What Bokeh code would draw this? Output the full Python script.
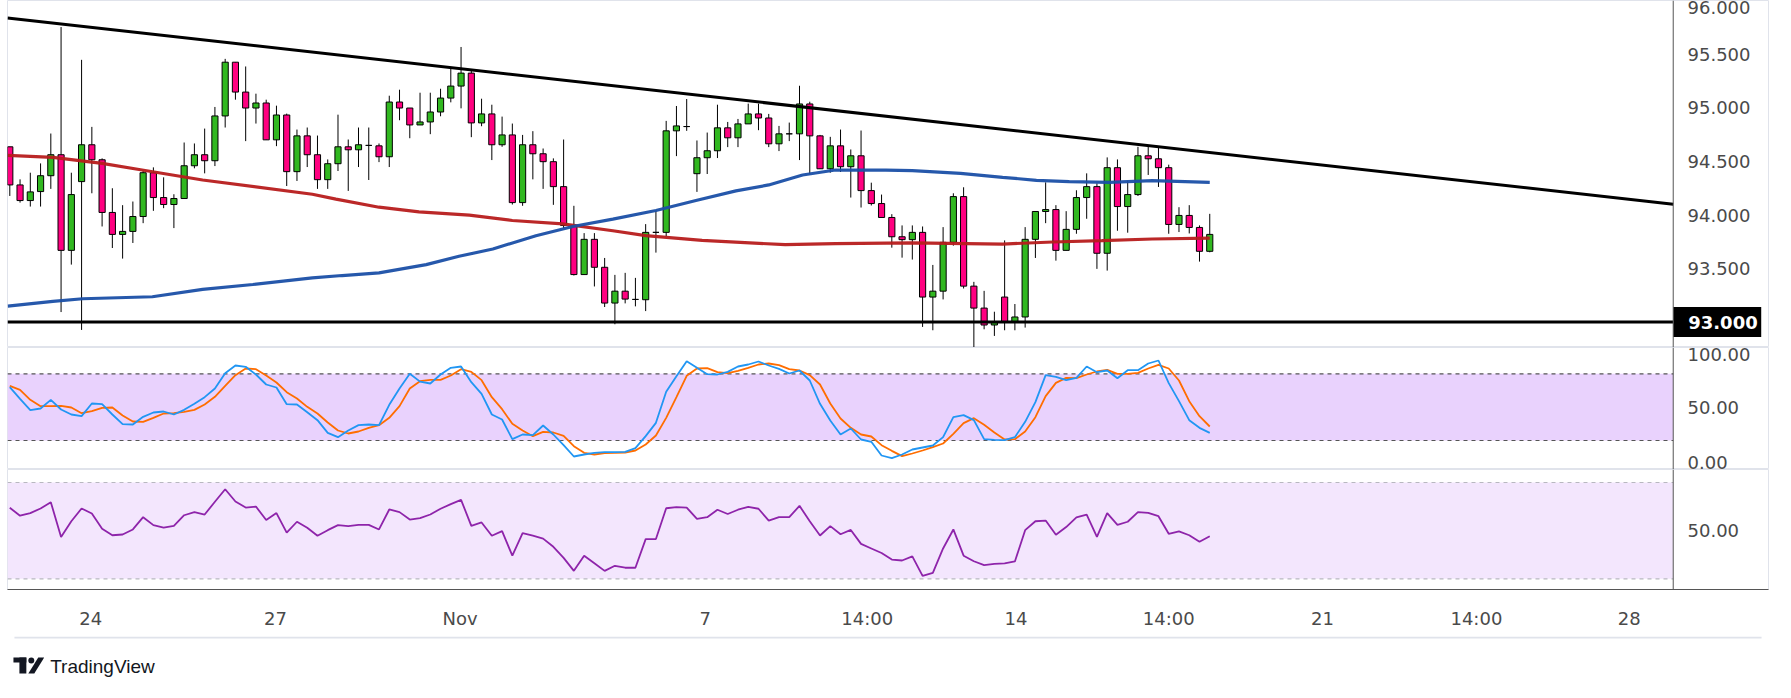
import numpy as np
from bokeh.plotting import figure
from bokeh.models import (Range1d, FixedTicker, BoxAnnotation, Span,
                          NumeralTickFormatter, ColumnDataSource)
from bokeh.layouts import column
from bokeh.core.properties import value
from bokeh.embed import file_html
from bokeh.resources import INLINE

# ---------------- data ----------------
opens = [
    94.637, 94.281, 94.135, 94.219, 94.367, 94.563, 93.670, 94.312, 94.656, 94.516,
    94.024, 93.819, 93.847, 93.986, 94.395, 94.163, 94.098, 94.154, 94.460, 94.563,
    94.507, 94.925, 95.427, 95.148, 94.999, 95.046, 94.702, 94.934, 94.405, 94.739,
    94.563, 94.330, 94.479, 94.637, 94.609, 94.650, 94.646, 94.544, 95.055, 94.999,
    94.841, 94.869, 94.962, 95.092, 95.204, 95.325, 94.860, 94.944, 94.656, 94.748,
    94.116, 94.656, 94.572, 94.498, 94.265, 93.903, 93.444, 93.773, 93.512, 93.178,
    93.289, 93.212, 93.209, 93.838, 93.838, 94.786, 94.826, 94.386, 94.535, 94.600,
    94.814, 94.721, 94.851, 94.944, 94.906, 94.665, 94.758, 94.758, 95.037, 94.739,
    94.432, 94.646, 94.451, 94.553, 94.228, 94.107, 93.977, 93.797, 93.770, 93.838,
    93.234, 93.289, 93.745, 94.172, 93.336, 93.131, 92.973, 93.234, 92.998, 93.048,
    93.773, 94.033, 94.051, 93.670, 93.866, 94.163, 94.265, 93.643, 94.442, 94.079,
    94.191, 94.553, 94.525, 94.442, 93.912, 93.996, 93.884, 93.661]
highs = [
    94.637, 94.333, 94.395, 94.482, 94.761, 95.755, 94.395, 95.449, 94.823, 94.529,
    94.250, 94.092, 94.126, 94.414, 94.445, 94.352, 94.194, 94.677, 94.668, 94.807,
    95.009, 95.458, 95.427, 95.387, 95.133, 95.077, 95.021, 94.947, 94.798, 94.817,
    94.742, 94.519, 94.937, 94.705, 94.817, 94.817, 94.668, 95.114, 95.170, 94.999,
    95.142, 95.142, 95.179, 95.365, 95.569, 95.356, 95.086, 95.030, 94.919, 94.854,
    94.748, 94.783, 94.621, 94.529, 94.705, 94.086, 93.831, 93.831, 93.599, 93.441,
    93.460, 93.413, 93.915, 94.042, 94.879, 95.018, 95.083, 94.696, 94.770, 95.030,
    94.869, 94.897, 95.040, 95.040, 94.944, 94.832, 94.863, 95.207, 95.058, 94.748,
    94.730, 94.798, 94.612, 94.789, 94.302, 94.191, 94.008, 93.903, 93.903, 93.893,
    93.534, 93.887, 94.203, 94.259, 93.376, 93.292, 93.097, 93.763, 93.169, 93.887,
    94.033, 94.305, 94.092, 94.036, 94.231, 94.389, 94.296, 94.538, 94.519, 94.318,
    94.637, 94.637, 94.631, 94.470, 94.073, 94.092, 93.903, 94.011]
lows = [
    94.178, 94.116, 94.079, 94.079, 94.244, 93.094, 93.537, 92.927, 94.203, 93.893,
    93.692, 93.593, 93.739, 93.924, 94.039, 94.064, 93.878, 94.154, 94.436, 94.389,
    94.457, 94.817, 95.077, 94.690, 94.854, 94.702, 94.643, 94.271, 94.318, 94.448,
    94.244, 94.244, 94.411, 94.225, 94.448, 94.327, 94.494, 94.448, 94.885, 94.717,
    94.841, 94.755, 94.922, 95.052, 94.996, 94.727, 94.829, 94.513, 94.637, 94.098,
    94.086, 94.333, 94.244, 94.095, 93.878, 93.435, 93.444, 93.333, 93.141, 92.980,
    93.175, 93.147, 93.103, 93.649, 93.800, 94.550, 94.786, 94.216, 94.383, 94.532,
    94.634, 94.634, 94.851, 94.792, 94.634, 94.597, 94.690, 94.513, 94.380, 94.432,
    94.395, 94.402, 94.163, 94.070, 94.089, 93.977, 93.695, 93.602, 93.584, 92.955,
    92.924, 93.212, 93.714, 93.314, 92.763, 92.933, 92.871, 92.924, 92.924, 92.949,
    93.599, 93.924, 93.574, 93.670, 93.825, 93.965, 93.497, 93.481, 93.853, 93.835,
    94.178, 94.374, 94.262, 93.825, 93.841, 93.828, 93.565, 93.652]
closes = [
    94.281, 94.135, 94.216, 94.367, 94.563, 93.670, 94.191, 94.656, 94.516, 94.024,
    93.819, 93.847, 93.986, 94.395, 94.163, 94.098, 94.154, 94.460, 94.563, 94.507,
    94.925, 95.427, 95.148, 94.999, 95.046, 94.702, 94.934, 94.405, 94.739, 94.563,
    94.330, 94.479, 94.637, 94.609, 94.656, 94.650, 94.544, 95.055, 94.999, 94.841,
    94.869, 94.962, 95.092, 95.204, 95.325, 94.860, 94.944, 94.656, 94.748, 94.116,
    94.656, 94.572, 94.498, 94.265, 93.903, 93.444, 93.773, 93.512, 93.178, 93.289,
    93.215, 93.212, 93.838, 93.838, 94.786, 94.832, 94.826, 94.535, 94.600, 94.814,
    94.721, 94.851, 94.944, 94.906, 94.665, 94.758, 94.758, 95.037, 94.739, 94.432,
    94.646, 94.451, 94.553, 94.228, 94.107, 93.977, 93.797, 93.770, 93.838, 93.234,
    93.289, 93.745, 94.172, 93.336, 93.131, 92.973, 92.998, 92.998, 93.048, 93.773,
    94.033, 94.051, 93.670, 93.866, 94.163, 94.265, 93.643, 94.442, 94.079, 94.191,
    94.553, 94.525, 94.442, 93.912, 93.996, 93.884, 93.661, 93.819]

# moving averages (bar position, value)
ma_red_x = [-0.2, 4.2, 9.0, 12.9, 18.8, 29.5, 31.8, 36.0, 39.9, 44.8, 49.0, 53.9,
            58.8, 62.0, 67.5, 75.6, 80.5, 88.0, 96.8, 101.7, 106.5, 111.4, 117.0]
ma_red_y = [94.556, 94.538, 94.482, 94.420, 94.327, 94.194, 94.148, 94.073, 94.030,
            93.999, 93.949, 93.918, 93.853, 93.807, 93.763, 93.723, 93.732, 93.739,
            93.729, 93.748, 93.760, 93.776, 93.785]
ma_blue_x = [-0.2, 4.2, 7.1, 13.9, 18.8, 23.7, 29.5, 32.4, 36.0, 40.6, 43.8, 47.1,
             51.3, 54.9, 58.8, 63.0, 66.9, 70.8, 74.0, 77.3, 80.5, 85.4, 88.0, 92.7,
             96.8, 100.1, 103.3, 107.2, 111.4, 117.0]
ma_blue_y = [93.150, 93.193, 93.218, 93.237, 93.305, 93.351, 93.413, 93.435, 93.460,
             93.537, 93.615, 93.683, 93.807, 93.893, 93.962, 94.042, 94.135, 94.225,
             94.281, 94.374, 94.420, 94.420, 94.414, 94.389, 94.352, 94.324, 94.312,
             94.305, 94.321, 94.305]

# drawn trend line (two anchor points) and horizontal support
trend_x = [-0.224, 162.19]
trend_y = [95.84, 94.10]
support_level = 93.0
support_text = "93.000"

stoch_k = [
    68.0, 57.5, 47.3, 48.8, 56.6, 47.9, 43.4, 41.9, 53.3, 52.7,
    43.4, 34.7, 34.4, 41.3, 45.2, 46.1, 43.4, 47.6, 53.0, 59.0,
    66.8, 80.6, 87.5, 86.3, 79.4, 70.4, 67.7, 52.7, 52.4, 45.5,
    38.3, 26.9, 23.0, 29.0, 33.8, 34.4, 33.8, 52.1, 66.8, 80.0,
    73.0, 71.3, 79.4, 85.4, 86.6, 72.5, 62.0, 43.4, 38.9, 21.2,
    25.4, 24.8, 33.5, 25.4, 15.8, 5.6, 7.4, 8.9, 9.5, 9.5,
    9.8, 13.1, 23.9, 35.9, 63.8, 77.9, 91.4, 85.4, 79.7, 79.4,
    81.8, 86.6, 88.4, 91.1, 87.5, 84.5, 80.3, 83.0, 74.0, 53.0,
    38.0, 25.4, 30.8, 20.9, 18.8, 6.5, 4.1, 7.4, 11.9, 13.7,
    15.5, 23.0, 41.0, 42.8, 38.3, 21.2, 20.6, 20.3, 23.0, 36.8,
    54.5, 78.8, 77.3, 74.3, 76.4, 86.6, 81.5, 83.0, 76.1, 83.3,
    83.3, 89.3, 92.0, 71.6, 55.4, 38.3, 31.4, 26.9]
stoch_d = [
    69.2, 65.6, 56.6, 50.9, 50.9, 51.2, 49.7, 44.6, 46.4, 49.4,
    49.7, 42.5, 37.1, 36.8, 40.4, 44.3, 44.6, 45.8, 47.6, 52.4,
    59.3, 69.2, 78.8, 84.8, 84.2, 78.5, 72.2, 63.5, 57.8, 50.3,
    44.3, 36.2, 29.0, 26.3, 28.1, 31.4, 33.8, 40.4, 50.9, 66.8,
    73.4, 74.6, 74.6, 78.5, 84.2, 81.8, 74.3, 59.0, 48.2, 35.0,
    29.0, 23.9, 27.8, 27.2, 24.2, 14.9, 8.9, 7.4, 8.6, 8.9,
    9.2, 11.0, 16.4, 24.5, 40.4, 59.0, 78.2, 84.8, 85.1, 81.5,
    80.6, 82.7, 85.4, 88.4, 89.3, 87.8, 84.2, 83.0, 78.8, 70.4,
    53.3, 39.8, 31.4, 25.4, 23.6, 15.8, 10.7, 5.9, 8.3, 11.0,
    14.0, 17.3, 26.0, 35.6, 40.1, 34.1, 27.2, 20.9, 21.2, 28.1,
    41.0, 59.9, 71.9, 76.4, 76.1, 79.4, 82.1, 83.6, 80.0, 80.0,
    80.9, 84.8, 88.1, 84.8, 74.0, 55.4, 41.9, 32.6]
rsi = [
    59.5, 56.2, 57.3, 59.2, 61.8, 47.4, 53.9, 59.2, 57.1, 50.8,
    48.1, 48.4, 50.5, 55.6, 52.3, 51.3, 52.0, 56.4, 57.7, 56.7,
    62.0, 67.2, 62.1, 59.6, 60.0, 54.4, 57.3, 49.2, 53.7, 51.2,
    47.9, 50.2, 52.3, 51.9, 52.4, 52.4, 50.5, 58.8, 57.7, 54.6,
    55.2, 56.7, 59.1, 61.0, 62.8, 52.0, 53.4, 47.9, 49.8, 39.6,
    49.0, 47.9, 46.7, 43.3, 38.7, 33.3, 39.6, 36.5, 33.3, 35.4,
    34.6, 34.6, 46.5, 46.5, 59.3, 59.8, 59.6, 54.9, 55.6, 58.7,
    56.9, 58.7, 59.9, 59.1, 54.2, 55.6, 55.6, 60.3, 53.9, 48.0,
    51.9, 48.5, 50.3, 44.5, 42.6, 40.7, 38.0, 37.6, 39.3, 31.2,
    32.5, 42.6, 50.5, 39.6, 37.3, 35.7, 36.2, 36.4, 37.2, 50.2,
    53.9, 54.2, 48.3, 51.5, 55.5, 56.7, 47.4, 57.3, 52.4, 53.7,
    57.7, 57.4, 56.0, 48.7, 49.7, 48.1, 45.4, 47.7]

stoch_levels = [20, 80]
rsi_levels = [30, 70]

price_ticks = [93.5, 94.0, 94.5, 95.0, 95.5, 96.0]
stoch_ticks = [0, 50, 100]
rsi_ticks = [50]
time_tick_pos = [7.9, 25.9, 43.9, 67.8, 83.6, 98.1, 113.0, 128.0, 143.0, 157.9]
time_tick_lab = ["24", "27", "Nov", "7", "14:00", "14", "14:00", "21", "14:00", "28"]

# ---------------- styling / layout ----------------
FONT = "DejaVu Sans"
TXT = "#4a4a4a"
GREEN = "#31b820"
PINK = "#ff0080"
W = 1775
AXIS_X = 162.19          # bar position where the price scale starts
x_rng = Range1d(-0.224, 171.48)


def pane(h, y0, y1, bottom=0, xaxis=False):
    p = figure(width=W, height=h, x_range=x_rng, y_range=Range1d(y0, y1),
               output_backend="svg", toolbar_location=None,
               min_border_left=7, min_border_right=7, min_border_top=0,
               min_border_bottom=bottom,
               x_axis_location="below" if xaxis else None,
               y_axis_location="right")
    p.xgrid.visible = False
    p.ygrid.visible = False
    p.outline_line_color = "#e0e3eb"
    p.background_fill_color = "white"
    p.border_fill_color = "white"
    ax = p.yaxis[0]
    ax.axis_line_color = None
    ax.major_tick_line_color = None
    ax.minor_tick_line_color = None
    ax.major_tick_out = 0
    ax.major_label_text_font = FONT
    ax.major_label_text_font_size = "18px"
    ax.major_label_text_color = TXT
    ax.major_label_text_align = "left"
    ax.major_label_standoff = -81
    p.add_layout(Span(location=AXIS_X, dimension="height",
                      line_color="#555555", line_width=1))
    return p


# ---- main price pane ----
p1 = pane(347, 92.763, 96.003)
p1.yaxis[0].ticker = FixedTicker(ticks=price_ticks)
p1.yaxis[0].formatter = NumeralTickFormatter(format="0.000")

idx = np.arange(len(opens))
o = np.array(opens); c = np.array(closes)
src = ColumnDataSource(dict(
    x=idx, hi=highs, lo=lows,
    top=np.maximum(o, c), bot=np.minimum(o, c),
    col=[GREEN if cc >= oo else PINK for oo, cc in zip(opens, closes)]))
p1.segment(x0="x", y0="lo", x1="x", y1="hi", source=src, line_color="black", line_width=1)
p1.vbar(x="x", top="top", bottom="bot", width=0.6, source=src,
        fill_color="col", line_color="black", line_width=1)
p1.line(ma_red_x, ma_red_y, line_color="#b71c1c", line_width=3.2, line_alpha=0.95)
p1.line(ma_blue_x, ma_blue_y, line_color="#1a4fa6", line_width=3.2, line_alpha=0.95)
p1.line(trend_x, trend_y, line_color="black", line_width=3)
p1.line([x_rng.start, AXIS_X], [support_level, support_level], line_color="black", line_width=3)
# price-scale marker of the support level
p1.rect(x=[AXIS_X + 4.29], y=[support_level], width=88, height=30,
        width_units="screen", height_units="screen", fill_color="black", line_color=None)
p1.text(x=[AXIS_X], y=[support_level], text=[support_text], x_offset=15,
        text_font=value(FONT), text_font_size="18px", text_font_style="bold",
        text_color="white", text_baseline="middle", text_align="left")

# ---- stochastic pane ----
p2 = pane(122, -6.1, 103.7)
p2.yaxis[0].ticker = FixedTicker(ticks=stoch_ticks)
p2.yaxis[0].formatter = NumeralTickFormatter(format="0.00")
p2.add_layout(BoxAnnotation(bottom=stoch_levels[0], top=stoch_levels[1], right=AXIS_X,
                            fill_color="#e9d2fd", fill_alpha=1, line_color=None,
                            level="underlay"))
p2.segment(x0=[x_rng.start] * 2, x1=[AXIS_X] * 2, y0=stoch_levels, y1=stoch_levels,
           line_color="#555555", line_width=1.2, line_dash="4 4")
p2.line(idx, stoch_d, line_color="#ff6d00", line_width=1.8)
p2.line(idx, stoch_k, line_color="#2196f3", line_width=1.8)

# ---- RSI pane ----
p3 = pane(167, 25.56, 75.4, bottom=47, xaxis=True)
p3.yaxis[0].ticker = FixedTicker(ticks=rsi_ticks)
p3.yaxis[0].formatter = NumeralTickFormatter(format="0.00")
p3.add_layout(BoxAnnotation(bottom=rsi_levels[0], top=rsi_levels[1], right=AXIS_X,
                            fill_color="#f3e6fd", fill_alpha=1, line_color=None,
                            level="underlay"))
p3.segment(x0=[x_rng.start] * 2, x1=[AXIS_X] * 2, y0=rsi_levels, y1=rsi_levels,
           line_color="#b8b8c0", line_width=1.2, line_dash="4 4")
p3.line(idx, rsi, line_color="#8e24aa", line_width=1.8)
xa = p3.xaxis[0]
xa.ticker = FixedTicker(ticks=time_tick_pos)
xa.major_label_overrides = {t: l for t, l in zip(time_tick_pos, time_tick_lab)}
xa.axis_line_color = "#555555"
xa.major_tick_line_color = None
xa.minor_tick_line_color = None
xa.major_label_text_font = FONT
xa.major_label_text_font_size = "18px"
xa.major_label_text_color = TXT
xa.major_label_standoff = 12

# ---- footer with the TradingView mark ----
p4 = figure(width=W, height=46, x_range=Range1d(0, W), y_range=Range1d(0, 46),
            output_backend="svg", toolbar_location=None, min_border=0,
            x_axis_location=None, y_axis_location=None)
p4.xgrid.visible = False
p4.ygrid.visible = False
p4.outline_line_color = None
p4.border_fill_color = "white"
p4.line([7, W - 7], [45, 45], line_color="#e0e3eb", line_width=2)
p4.quad(left=[6, 12], right=[19, 19], bottom=[20, 9], top=[25, 25],
        fill_color="#131722", line_color=None)
p4.circle(x=[24], y=[22], radius=3, fill_color="#131722", line_color=None)
p4.patch([21, 27, 37, 31], [9, 9, 25, 25], fill_color="#131722", line_color=None)
p4.text(x=[43], y=[16], text=["TradingView"], text_font=value("Liberation Sans"),
        text_font_size="19px", text_color="#131722", text_baseline="middle")

layout = column(p1, p2, p3, p4, spacing=0)
open("out.html", "w").write(file_html(layout, INLINE))
